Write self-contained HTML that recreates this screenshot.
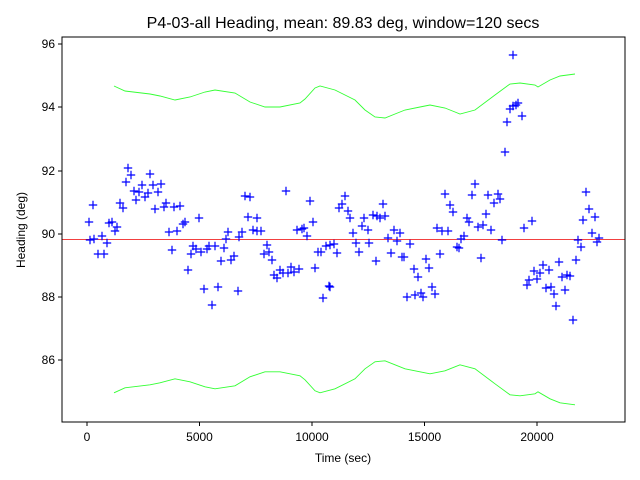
<!DOCTYPE html>
<html><head><meta charset="utf-8"><style>
html,body{margin:0;padding:0;background:#fff}
svg{display:block;font-family:"Liberation Sans","DejaVu Sans",sans-serif}
</style></head><body>
<svg id="s" width="640" height="480" viewBox="0 0 640 480" xmlns="http://www.w3.org/2000/svg">
<rect width="640" height="480" fill="#fff"/>
<text x="343" y="28" font-size="16" text-anchor="middle" fill="#000">P4-03-all Heading, mean: 89.83 deg, window=120 secs</text>
<line x1="62" y1="239.4" x2="625" y2="239.4" stroke="#e00" stroke-width="0.8"/>
<polyline id="up" fill="none" stroke="#33ff33" stroke-width="0.9"/>
<polyline id="lo" fill="none" stroke="#33ff33" stroke-width="0.9"/>
<g id="pts" stroke="#0000ff" stroke-width="1.2"></g>
<rect x="62" y="37" width="563" height="385" fill="none" stroke="#000" stroke-width="1"/>
<g stroke="#000" stroke-width="1">
<line x1="87" y1="422" x2="87" y2="426"/><line x1="199.5" y1="422" x2="199.5" y2="426"/><line x1="312" y1="422" x2="312" y2="426"/><line x1="424.5" y1="422" x2="424.5" y2="426"/><line x1="537" y1="422" x2="537" y2="426"/>
<line x1="58" y1="360" x2="62" y2="360"/><line x1="58" y1="297" x2="62" y2="297"/><line x1="58" y1="234" x2="62" y2="234"/><line x1="58" y1="171" x2="62" y2="171"/><line x1="58" y1="107" x2="62" y2="107"/><line x1="58" y1="44" x2="62" y2="44"/>
</g>
<g font-size="12" fill="#000" text-anchor="middle">
<text x="87" y="441">0</text><text x="199.5" y="441">5000</text><text x="312" y="441">10000</text><text x="424.5" y="441">15000</text><text x="537" y="441">20000</text>
<text x="343" y="462">Time (sec)</text>
</g>
<g font-size="12" fill="#000" text-anchor="end">
<text x="55" y="364">86</text><text x="55" y="301">88</text><text x="55" y="238">90</text><text x="55" y="175">92</text><text x="55" y="111">94</text><text x="55" y="48">96</text>
</g>
<text transform="translate(25,230) rotate(-90)" font-size="12" text-anchor="middle">Heading (deg)</text>
</svg>
<script>
var up=[[114,86],[125,91],[150,94],[160,96],[175,100],[190,97],[205,92],[215,90],[235,93],[250,102],[265,107],[280,107],[300,103],[305,99],[315,88],[320,86],[335,90],[355,100],[365,110],[375,117],[385,118],[395,114],[405,110],[420,107],[430,105],[445,108],[455,112],[460,114],[475,110],[495,95],[510,84],[520,83],[535,85],[538,87],[550,80],[560,76],[575,74]];
document.getElementById('up').setAttribute('points',up.map(p=>p[0]+','+p[1]).join(' '));
document.getElementById('lo').setAttribute('points',up.map(p=>p[0]+','+(478.8-p[1])).join(' '));
var P=[[89,222],[93,205],[90,240],[94,239],[98,254],[102,236],[104,254],[107,243],[109,223],[112,222],[115,231],[117,227],[120,203],[123,208],[126,182],[128,168],[131,175],[134,191],[136,200],[139,192],[142,185],[145,197],[148,193],[150,174],[153,185],[155,209],[158,192],[161,184],[164,207],[166,203],[169,232],[172,250],[174,207],[177,231],[180,206],[183,224],[185,222],[188,270],[191,254],[193,246],[196,249],[199,218],[201,252],[204,289],[207,249],[209,246],[212,305],[215,246],[218,287],[221,261],[224,248],[226,239],[228,232],[231,260],[234,256],[238,291],[239,237],[242,232],[245,196],[248,217],[250,197],[253,230],[257,218],[257,231],[261,231],[264,254],[267,245],[269,252],[272,260],[274,275],[277,278],[280,270],[283,273],[286,191],[288,273],[291,267],[294,272],[297,230],[299,269],[302,229],[304,228],[307,236],[310,201],[313,222],[315,268],[318,252],[321,252],[323,298],[326,246],[329,286],
[330,245],[334,244],[337,253],[330,287],[339,208],[342,204],[345,196],[348,211],[350,218],[353,233],[356,243],[359,252],[362,226],[364,218],[368,230],[369,243],[373,215],[376,261],[377,216],[380,218],[383,204],[385,216],[388,238],[391,253],[394,230],[397,241],[400,233],[402,257],[404,257],[410,244],[414,269],[418,277],[407,297],[415,295],[421,293],[423,297],[426,259],[429,268],[432,287],[435,294],[437,228],[440,254],[442,231],[445,194],[448,231],[450,205],[453,212],[457,247],[459,248],[461,239],[464,236],[467,218],[469,222],[472,195],[475,184],[478,227],[481,258],[483,225],[486,214],[488,195],[491,230],[494,203],[498,194],[500,199],[502,240],[505,152],[507,122],[510,109],[513,106],[516,105],[518,103],[522,116],[513,55],[524,228],[527,285],[529,280],[532,221],[534,271],[537,279],[540,273],[543,265],[546,288],[549,270],[551,287],[554,294],[556,306],[559,262],[562,277],[565,290],[567,275],[570,276],[573,320],[576,260],[578,240],[581,247],[583,220],[586,192],[589,209],[592,233],[595,217],[597,242],[599,238]];
var d='';P.forEach(p=>{d+='M'+(p[0]-4.2)+' '+p[1]+'h8.4M'+p[0]+' '+(p[1]-4.2)+'v8.4';});
var g=document.getElementById('pts');var e=document.createElementNS('http://www.w3.org/2000/svg','path');e.setAttribute('d',d);e.setAttribute('fill','none');g.appendChild(e);
</script>
</body></html>
